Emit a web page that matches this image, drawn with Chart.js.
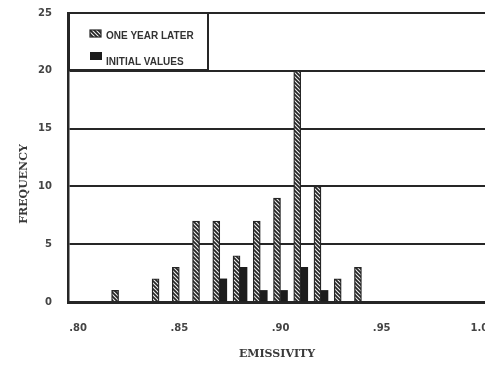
<!DOCTYPE html>
<html>
<head>
<meta charset="utf-8">
<script src="https://cdn.jsdelivr.net/npm/chart.js@4.4.1/dist/chart.umd.min.js"></script>
<style>
  html, body { margin: 0; padding: 0; background: #fff; overflow: hidden; }
  #wrap { position: relative; width: 500px; height: 373px; }
</style>
</head>
<body>
<div id="wrap"><canvas id="c" width="500" height="373"></canvas></div>
<script>
// Emissivity classes, one per 0.01 step
const emissivity = ['.80', '.81', '.82', '.83', '.84', '.85', '.86', '.87', '.88', '.89', '.90',
                    '.91', '.92', '.93', '.94', '.95', '.96', '.97', '.98', '.99', '1.00'];
// Frequency counts per class
const oneYearLater  = [null, null, 1, null, 2, 3, 7, 7, 4, 7, 9, 20, 10, 2, 3, null, null, null, null, null, null];
const initialValues = [null, null, null, null, null, null, null, 2, 3, 1, 1, 3, 1, null, null, null, null, null, null, null, null];
const yTicks = [0, 5, 10, 15, 20, 25];
const seriesNames = ['ONE YEAR LATER', 'INITIAL VALUES'];

const INK = '#262626';

// Diagonal hatch fill for the "one year later" bars
function makeHatch() {
  const t = document.createElement('canvas');
  t.width = 4; t.height = 4;
  const g = t.getContext('2d');
  g.fillStyle = '#eeeeee';
  g.fillRect(0, 0, 4, 4);
  g.strokeStyle = '#242424';
  g.lineWidth = 1.7;
  g.beginPath();
  g.moveTo(-1, -1); g.lineTo(5, 5);
  g.moveTo(-1, 3);  g.lineTo(1, 5);
  g.moveTo(3, -1);  g.lineTo(5, 1);
  g.stroke();
  return g.createPattern(t, 'repeat');
}
const hatch = makeHatch();

// Boxed legend in the upper-left corner plus the two axis titles
const decorations = {
  id: 'decorations',
  afterDraw(chart) {
    const ctx = chart.ctx;
    ctx.save();
    // legend box
    ctx.fillStyle = '#fff';
    ctx.fillRect(69, 13, 139, 57);
    ctx.strokeStyle = INK;
    ctx.lineWidth = 2;
    ctx.strokeRect(69, 13, 139, 57);

    const ds = chart.data.datasets;
    ctx.font = 'bold 10px "Liberation Sans", Arial, sans-serif';
    ctx.textBaseline = 'middle';
    ctx.textAlign = 'left';
    // hatched swatch
    ctx.fillStyle = ds[0].backgroundColor;
    ctx.fillRect(90, 30, 11, 7);
    ctx.strokeStyle = INK; ctx.lineWidth = 1.2;
    ctx.strokeRect(90, 30, 11, 7);
    ctx.fillStyle = '#333';
    ctx.fillText(ds[0].label, 106, 36);
    // solid swatch
    ctx.fillStyle = ds[1].backgroundColor;
    ctx.fillRect(90, 52, 12, 8);
    ctx.fillStyle = '#333';
    ctx.fillText(ds[1].label, 106, 62);

    // axis titles
    ctx.font = 'bold 11px "DejaVu Serif", serif';
    ctx.fillStyle = '#3a3a3a';
    ctx.textAlign = 'center';
    ctx.fillText('EMISSIVITY', 277, 354);
    ctx.translate(24, 184);
    ctx.rotate(-Math.PI / 2);
    ctx.fillText('FREQUENCY', 0, 0);
    ctx.restore();
  }
};

new Chart(document.getElementById('c'), {
  type: 'bar',
  data: {
    labels: emissivity,
    datasets: [
      {
        label: seriesNames[0],
        data: oneYearLater,
        backgroundColor: hatch,
        borderColor: INK,
        borderWidth: 1.3,
        barThickness: 7
      },
      {
        label: seriesNames[1],
        data: initialValues,
        backgroundColor: '#1c1c1c',
        borderWidth: 0,
        barThickness: 7
      }
    ]
  },
  options: {
    responsive: false,
    animation: false,
    devicePixelRatio: 1,
    layout: { padding: { top: 13, right: 7, left: 0, bottom: 0 } },
    plugins: { legend: { display: false }, tooltip: { enabled: false } },
    scales: {
      x: {
        offset: true,
        grid: { display: false, drawTicks: false },
        border: { display: true, color: INK, width: 3 },
        afterFit: s => { s.height = 71; s.paddingLeft = 0; s.paddingRight = 0; },
        ticks: {
          autoSkip: false,
          maxRotation: 0,
          padding: 20,
          color: '#444',
          font: { family: '"DejaVu Sans", sans-serif', weight: 'bold', size: 10 },
          callback: (v, i) => (i % 5 === 0 ? emissivity[i] : '')
        }
      },
      y: {
        min: yTicks[0],
        max: yTicks[yTicks.length - 1],
        afterFit: s => { s.width = 68; s.paddingTop = 0; s.paddingBottom = 0; },
        afterBuildTicks: s => { s.ticks = yTicks.map(v => ({ value: v })); },
        grid: { color: INK, lineWidth: 2, drawTicks: false },
        border: { display: true, color: INK, width: 2.5 },
        ticks: {
          padding: 16,
          color: '#444',
          font: { family: '"DejaVu Sans", sans-serif', weight: 'bold', size: 10 }
        }
      }
    }
  },
  plugins: [decorations]
});
</script>
</body>
</html>
